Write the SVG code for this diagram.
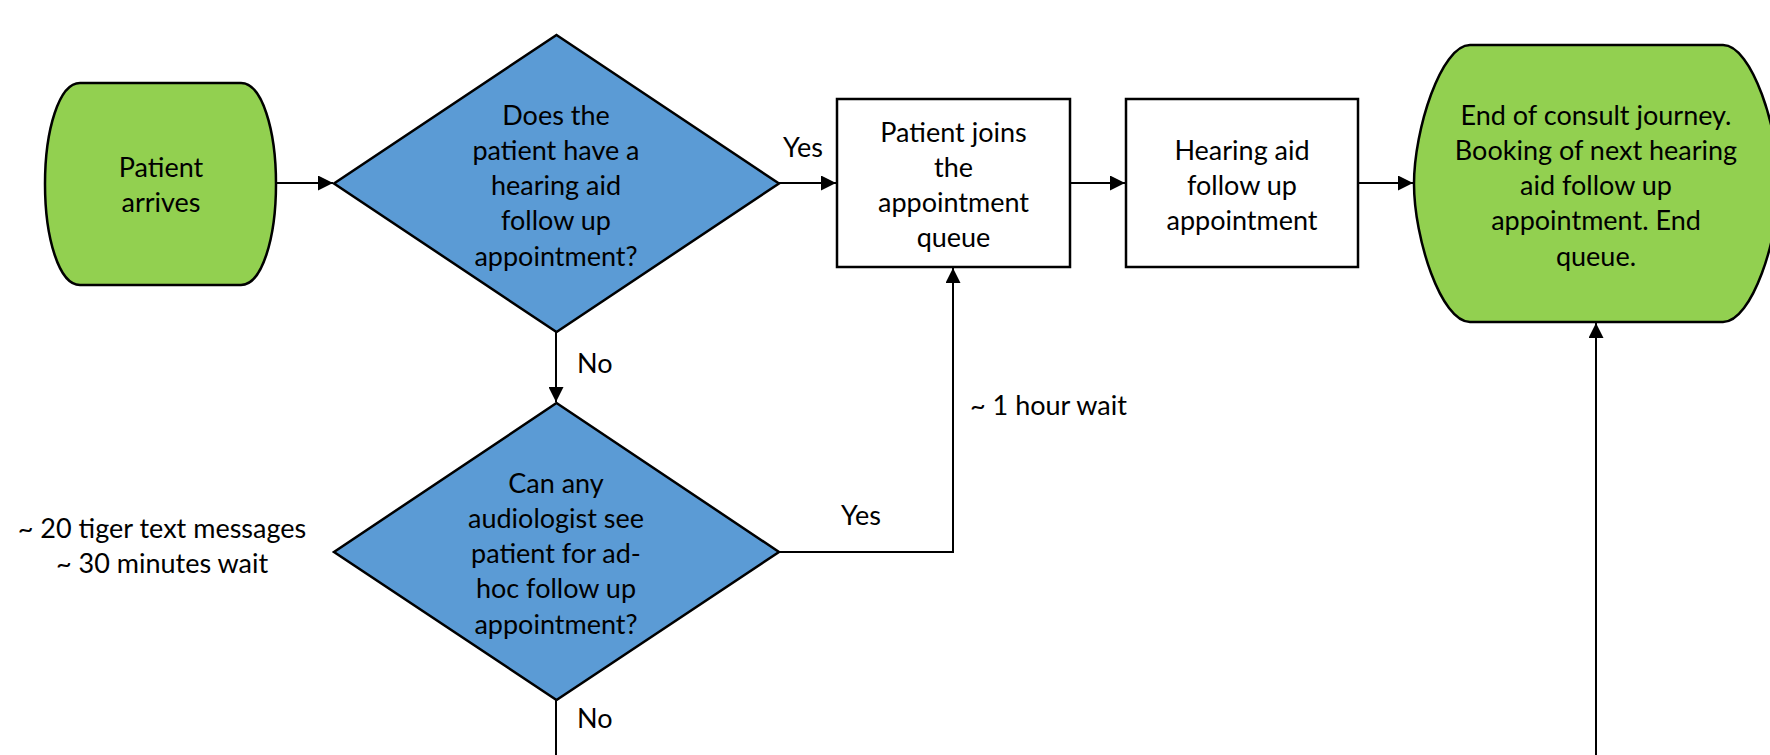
<svg xmlns="http://www.w3.org/2000/svg" width="1770" height="755" viewBox="0 0 1770 755">
<defs>
<marker id="arr" markerWidth="15" markerHeight="15" refX="15" refY="7.5" orient="auto" markerUnits="userSpaceOnUse">
<path d="M0,0 L15,7.5 L0,15 Z" fill="#000"/>
</marker>
<style>
text{font-family:Lato,"Liberation Sans",sans-serif;font-size:27px;fill:#000;}
.c{text-anchor:middle;}
.term{fill:#92D050;stroke:#000;stroke-width:2.5;}
.dec{fill:#5B9BD5;stroke:#000;stroke-width:2.5;}
.box{fill:#fff;stroke:#000;stroke-width:2.5;}
.conn{fill:none;stroke:#000;stroke-width:2;}
</style>
</defs>
<rect width="1770" height="755" fill="#fff"/>
<g id="connectors">
<path class="conn" d="M277,183 H333" marker-end="url(#arr)"/>
<path class="conn" d="M779,183 H836" marker-end="url(#arr)"/>
<path class="conn" d="M1070,183 H1125" marker-end="url(#arr)"/>
<path class="conn" d="M1358,183 H1413" marker-end="url(#arr)"/>
<path class="conn" d="M556,332 V402" marker-end="url(#arr)"/>
<path class="conn" d="M779,552 H953 V268" marker-end="url(#arr)"/>
<path class="conn" d="M556,700 V755"/>
<path class="conn" d="M1596,755 V323" marker-end="url(#arr)"/>
<text x="803" y="157" class="c">Yes</text>
<text x="577" y="373">No</text>
<text x="861" y="525" class="c">Yes</text>
<text x="970" y="415">~ 1 hour wait</text>
<text x="577" y="728">No</text>
</g>
<g id="patient-arrives">
<path class="term" d="M80,83 H241 C262,83 276,130 276,184 C276,238 262,285 241,285 H80 C59,285 45,238 45,184 C45,130 59,83 80,83 Z"/>
<text x="161" y="177" class="c">Patient</text>
<text x="161" y="212" class="c">arrives</text>
</g>
<g id="decision-followup">
<polygon class="dec" points="556.5,35 779,183.5 556.5,332 334,183.5"/>
<text x="556" y="124.5" class="c">Does the</text>
<text x="556" y="159.8" class="c">patient have a</text>
<text x="556" y="195.1" class="c">hearing aid</text>
<text x="556" y="230.4" class="c">follow up</text>
<text x="556" y="265.7" class="c">appointment?</text>
</g>
<g id="queue">
<rect class="box" x="837" y="99" width="233" height="168"/>
<text x="953.5" y="142" class="c">Patient joins</text>
<text x="953.5" y="177" class="c">the</text>
<text x="953.5" y="212" class="c">appointment</text>
<text x="953.5" y="247" class="c">queue</text>
</g>
<g id="followup-appointment">
<rect class="box" x="1126" y="99" width="232" height="168"/>
<text x="1242" y="160" class="c">Hearing aid</text>
<text x="1242" y="195" class="c">follow up</text>
<text x="1242" y="230" class="c">appointment</text>
</g>
<g id="end">
<path class="term" d="M1470,45 H1723 C1752,45 1779,130 1779,184 C1779,238 1752,322 1723,322 H1470 C1441,322 1414,238 1414,184 C1414,130 1441,45 1470,45 Z"/>
<text x="1596" y="124.5" class="c">End of consult journey.</text>
<text x="1596" y="159.8" class="c">Booking of next hearing</text>
<text x="1596" y="195.1" class="c">aid follow up</text>
<text x="1596" y="230.4" class="c">appointment. End</text>
<text x="1596" y="265.7" class="c">queue.</text>
</g>
<g id="decision-audiologist">
<polygon class="dec" points="556.5,403 779,552 556.5,700 334,552"/>
<text x="556" y="492.5" class="c">Can any</text>
<text x="556" y="527.8" class="c">audiologist see</text>
<text x="556" y="563.1" class="c">patient for ad-</text>
<text x="556" y="598.4" class="c">hoc follow up</text>
<text x="556" y="633.7" class="c">appointment?</text>
</g>
<g id="note-texts">
<text x="162" y="538" class="c">~ 20 tiger text messages</text>
<text x="162" y="573" class="c">~ 30 minutes wait</text>
</g>
</svg>
